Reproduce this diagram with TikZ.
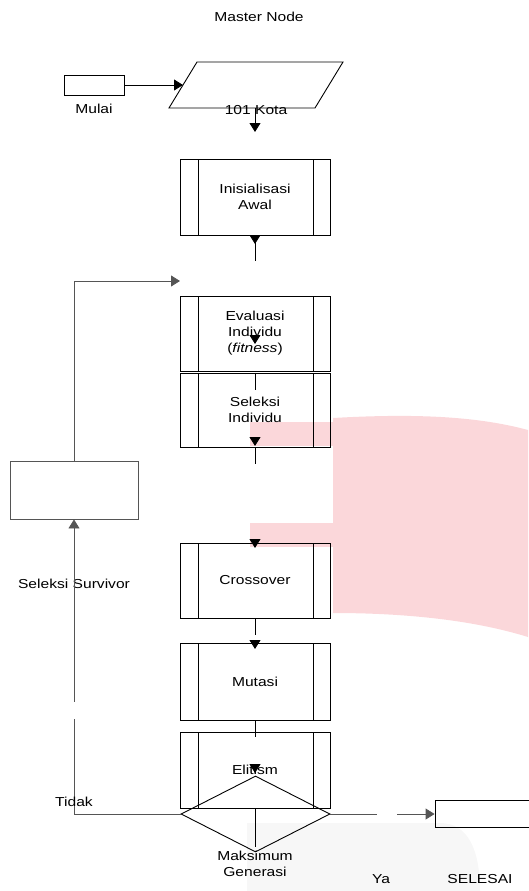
\documentclass[tikz,border=0pt]{standalone}
\usepackage{fontspec}
\setmainfont[FakeStretch=1.2]{Liberation Sans}
\usetikzlibrary{arrows.meta,shapes.geometric,calc}
\definecolor{merahmuda}{RGB}{251,215,218}
\definecolor{abu}{RGB}{85,85,85}
\begin{document}
\begin{tikzpicture}[x=1pt,y=-1pt,line width=0.9pt,
    font=\fontsize{13}{16}\selectfont,
    proses/.style={draw, minimum width=150pt, minimum height=76pt, align=center, inner sep=0pt,
      path picture={
        \draw[line width=0.9pt] ([xshift=18pt]path picture bounding box.north west) -- ([xshift=18pt]path picture bounding box.south west);
        \draw[line width=0.9pt] ([xshift=-17pt]path picture bounding box.north east) -- ([xshift=-17pt]path picture bounding box.south east);}},
    panah/.style={-{Triangle[length=9pt,width=11pt]}},
    teks/.style={inner sep=0pt, align=center, text height=9.5pt, text depth=0pt}]
    \useasboundingbox (0,0) rectangle (528,891);

    % Watermark:
    % Bentuk merah muda di belakang diagram
    \fill[merahmuda] (333,418) .. controls (420,413) and (480,417) .. (528,430) -- (528,637)
        .. controls (470,619) and (400,613) .. (333,613) -- cycle;
    \fill[merahmuda] (250,422) rectangle (333,446);
    \fill[merahmuda] (250,523) rectangle (333,547);
    \fill[black!3] (247,823) -- (440,823) .. controls (468,823) and (480,850) .. (480,891) -- (247,891) -- cycle;

    % Judul:
    \node[teks] (master) at (259,17) {Master Node};

    % Mulai dan input:
    \node[draw, minimum width=60pt, minimum height=20pt, inner sep=0pt] (mulai) at (94,85) {};
    \node[teks] (lblmulai) at (94,109) {Mulai};
    \coordinate (kotaBL) at (169,108);
    \coordinate (kotaTL) at (197,62);
    \coordinate (kotaTR) at (343,62);
    \coordinate (kotaBR) at (315,108);
    \draw (kotaBL) -- (kotaTL) -- (kotaTR) -- (kotaBR) -- cycle;
    \coordinate (kota) at ($(kotaBL)!0.5!(kotaTL)$);
    \coordinate (kotabawah) at (255,108);
    \node[teks] (lblkota) at (256,110) {101 Kota};
    \draw[panah] (mulai.east) -- (kota);
    \coordinate (a1) at (255,132);
    \draw[panah] (kotabawah) -- (a1);

    % Proses utama:
    \node[proses] (init) at (255,197) {Inisialisasi\\Awal};
    \coordinate (a2) at (255,244);
    \coordinate (b2) at (255,261);
    \draw (init.south) -- (b2);
    \draw[panah] (init.south) -- (a2);

    \node[proses, minimum height=75pt] (evaluasi) at (255,333.5) {Evaluasi\\Individu\\(\textit{fitness})};
    \node[proses, minimum height=74pt] (seleksi) at (255,410) {Seleksi\\Individu};
    \coordinate (a3s) at (255,335);
    \coordinate (a3) at (255,344);
    \draw[panah] (a3s) -- (a3);
    \coordinate (b3) at (255,390);
    \draw (seleksi.north) -- (b3);
    \coordinate (a4s) at (255,437);
    \coordinate (a4) at (255,446);
    \draw[panah] (a4s) -- (a4);
    \coordinate (b4) at (255,464);
    \draw (seleksi.south) -- (b4);

    \node[proses, minimum height=75pt] (crossover) at (255,580.5) {Crossover};
    \coordinate (a5s) at (255,539);
    \coordinate (a5) at (255,548);
    \draw[panah] (a5s) -- (a5);
    \coordinate (b5) at (255,635);
    \draw (crossover.south) -- (b5);
    \coordinate (a6s) at (255,640);
    \coordinate (a6) at (255,649);
    \draw[panah] (a6s) -- (a6);

    \node[proses, minimum height=77pt] (mutasi) at (255,681.5) {Mutasi};
    \coordinate (b6) at (255,737);
    \draw (mutasi.south) -- (b6);

    \node[proses] (elitism) at (255,770) {Elitism};
    \coordinate (a7s) at (255,764);
    \coordinate (a7) at (255,773);
    \draw[panah] (a7s) -- (a7);

    % Keputusan:
    \node[diamond, draw, minimum width=149pt, minimum height=76pt, inner sep=0pt] (maks) at (255.5,814) {};
    \coordinate (b7) at (255,847);
    \draw (elitism.south) -- (b7);
    \node[teks] (lblmaks) at (255,872) {Maksimum\\Generasi};

    % Seleksi survivor dan umpan balik:
    \node[draw=abu, minimum width=128pt, minimum height=58pt, inner sep=0pt] (survivor) at (74,490) {};
    \node[teks] (lblsurvivor) at (74,584) {Seleksi Survivor};
    \coordinate (balik) at (180,281);
    \draw[abu, panah] (survivor.north) |- (balik);
    \draw[abu, panah] (maks.west) -| (survivor.south);
    \fill[white] (68,702) rectangle (80,719);
    \node[teks] (lbltidak) at (74,802) {Tidak};

    % Selesai:
    \node[draw, minimum width=120pt, minimum height=27pt, inner sep=0pt] (selesai) at (495,814) {};
    \draw[abu, panah] (maks.east) -- (selesai.west);
    \fill[white] (377,807) rectangle (397,822);
    \node[teks] (lblya) at (381,879) {Ya};
    \node[teks] (lblselesai) at (480,879) {SELESAI};
\end{tikzpicture}
\end{document}
